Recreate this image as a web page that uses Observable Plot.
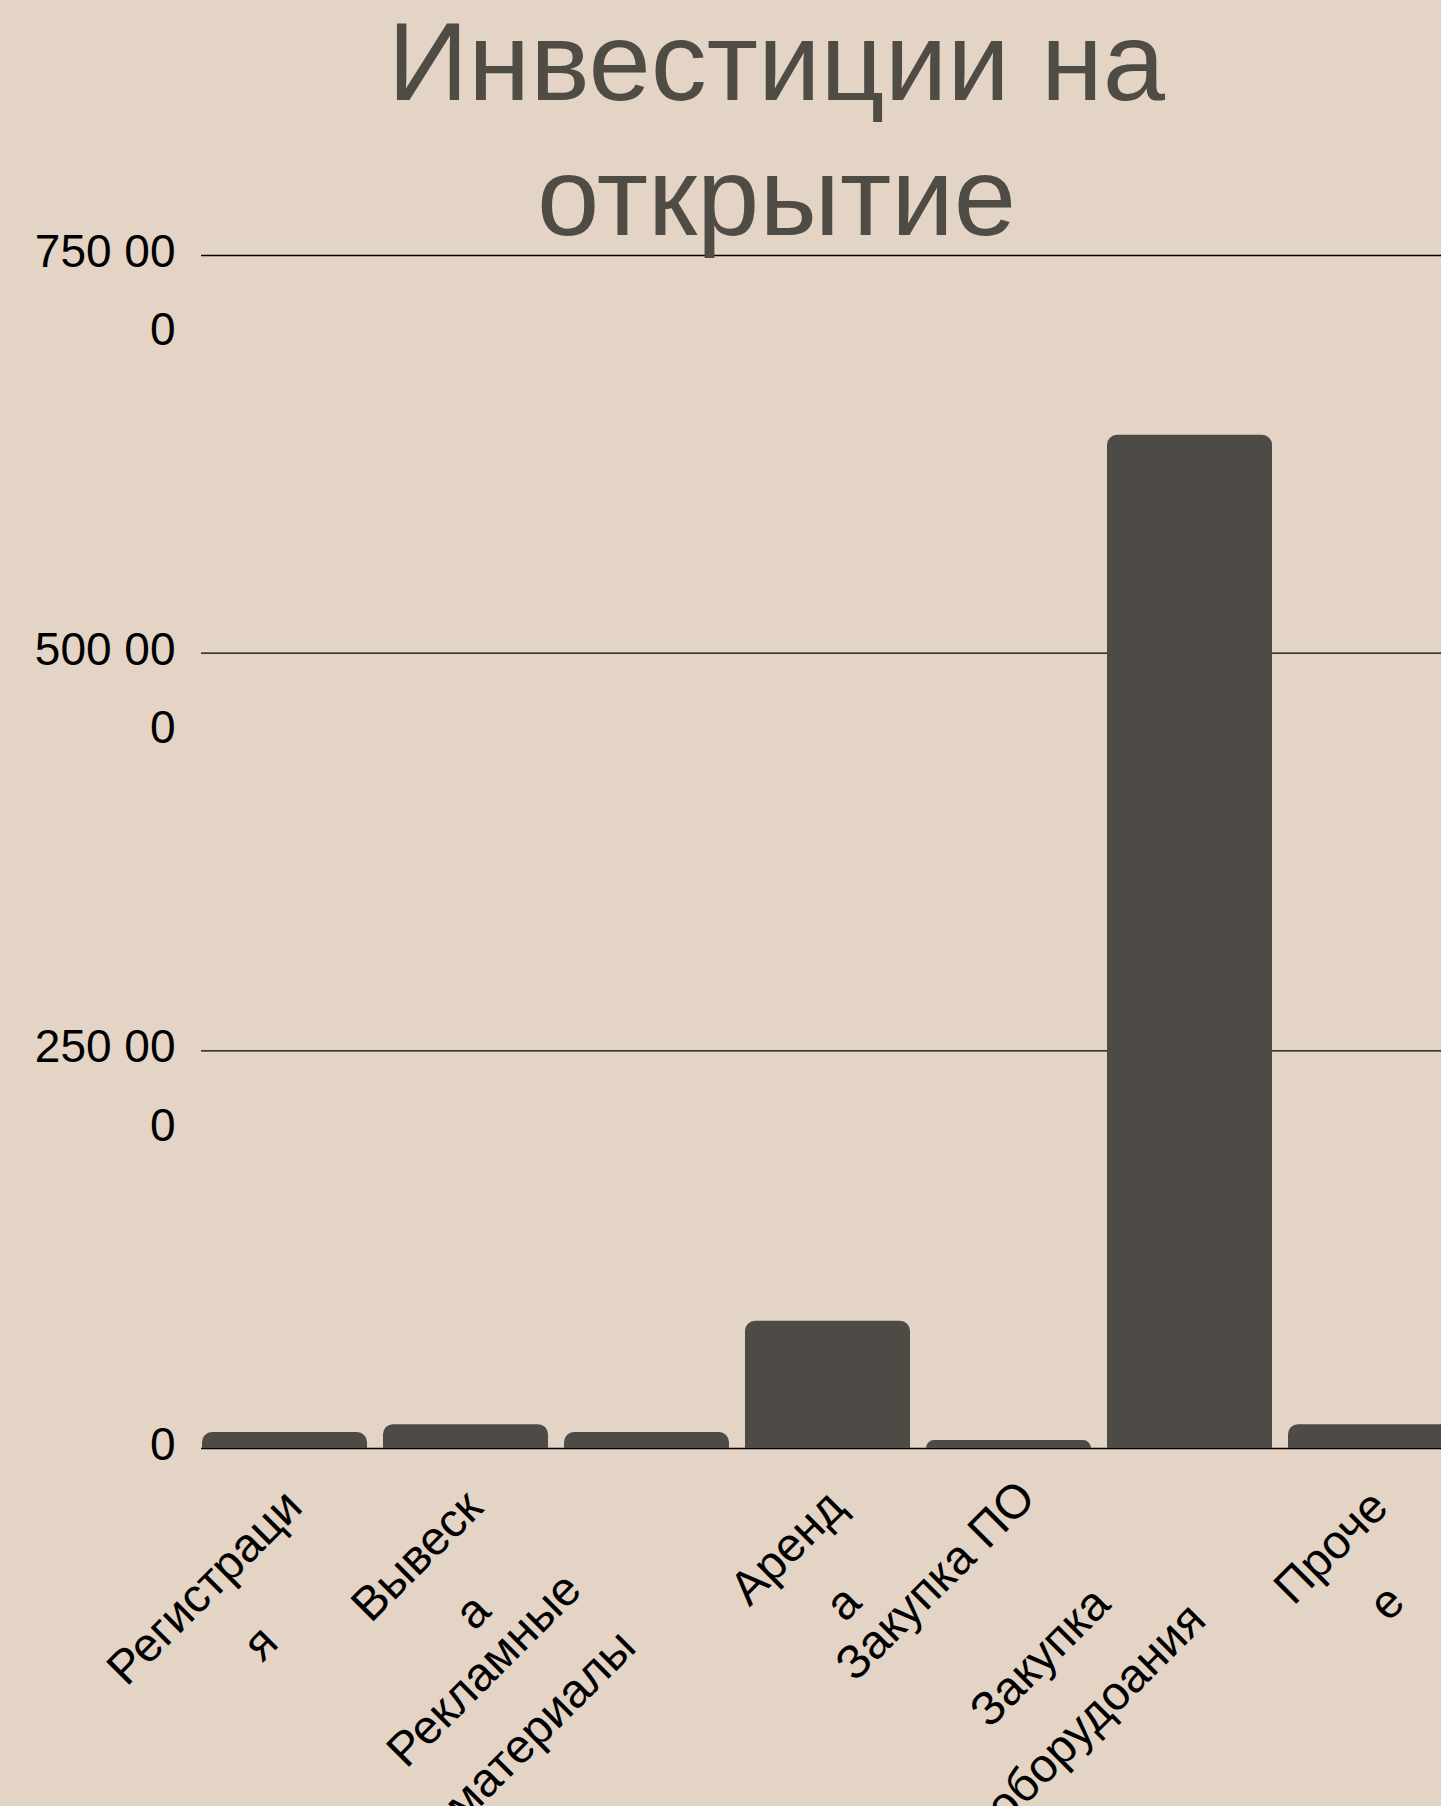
<!DOCTYPE html>
<html>
<head>
<meta charset="utf-8">
<script src="https://cdn.jsdelivr.net/npm/d3@7"></script>
<script src="https://cdn.jsdelivr.net/npm/@observablehq/plot@0.6"></script>
<style>
  html, body { margin: 0; padding: 0; background: #e3d4c5; overflow: hidden; }
  #wrap { position: relative; width: 1441px; height: 1806px; overflow: hidden; background: #e3d4c5; }
  #chart { position: absolute; left: 0; top: 0; width: 1456px; }
  #chart svg { max-width: none !important; }
  #title {
    position: absolute; left: 0; top: -6px; width: 1553px; text-align: center;
    font-family: "Liberation Sans", Arial, sans-serif; font-size: 112px; line-height: 135px;
    color: #4f4b45; pointer-events: none;
  }
</style>
</head>
<body>
<div id="wrap">
  <div id="chart"></div>
  <div id="title">Инвестиции на<br>открытие</div>
</div>
<script>
// ---- data ----
const categories = ["Регистрация", "Вывеска", "Рекламные материалы", "Аренда", "Закупка ПО", "Закупка оборудоания", "Прочее"];
const values = [10000, 15000, 10000, 80000, 5000, 637000, 15000];
const xTickLabels = ["Регистраци\nя", "Вывеск\nа", "Рекламные\nматериалы", "Аренд\nа", "Закупка ПО", "Закупка\nоборудоания", "Проче\nе"];
const yTicks = [0, 250000, 500000, 750000];
const yTickLabels = ["0", "250 00\n0", "500 00\n0", "750 00\n0"];

// ---- build ----
const data = categories.map((c, i) => ({cat: c, value: values[i], label: xTickLabels[i]}));
const fs = 46, xfs = 47.5, lh = 1.66;
const fontFamily = '"Liberation Sans", Arial, sans-serif';
const ctx = document.createElement("canvas").getContext("2d");
ctx.font = `${xfs}px ${fontFamily}`;
const k = 1 / (2 * Math.SQRT2);

const labelMarks = data.map(d => {
  const wu = ctx.measureText(d.cat).width;
  const n = d.label.split("\n").length;
  const hh = n * xfs * lh;
  return Plot.text([d], {
    x: "cat", y: () => 0, text: "label",
    rotate: -45, textAnchor: "middle", lineAnchor: "middle", lineHeight: lh,
    fontSize: xfs, fill: "#000",
    dx: -17 - wu * k + hh * k, dy: 6 + wu * k + hh * k
  });
});

const chart = Plot.plot({
  width: 1456, height: 1806,
  marginLeft: 201, marginRight: 1, marginTop: 255, marginBottom: 358,
  style: {background: "transparent", fontFamily, overflow: "visible", maxWidth: "none"},
  x: {domain: categories, paddingInner: 0.0877, paddingOuter: 0, axis: null},
  y: {domain: [0, 750000], axis: null},
  marks: [
    Plot.ruleY(yTicks, {stroke: "#000", strokeWidth: 1.4}),
    Plot.barY(data, {x: "cat", y: "value", fill: "#4e4a45", ry1: 10}),
    Plot.text(yTicks, {
      y: d => d, text: (d, i) => yTickLabels[i], frameAnchor: "left", textAnchor: "end",
      dx: -26, dy: -44, lineAnchor: "top", lineHeight: 1.7, fontSize: fs, fill: "#000"
    }),
    ...labelMarks
  ]
});
chart.style.maxWidth = "none";
document.getElementById("chart").appendChild(chart);
</script>
</body>
</html>
